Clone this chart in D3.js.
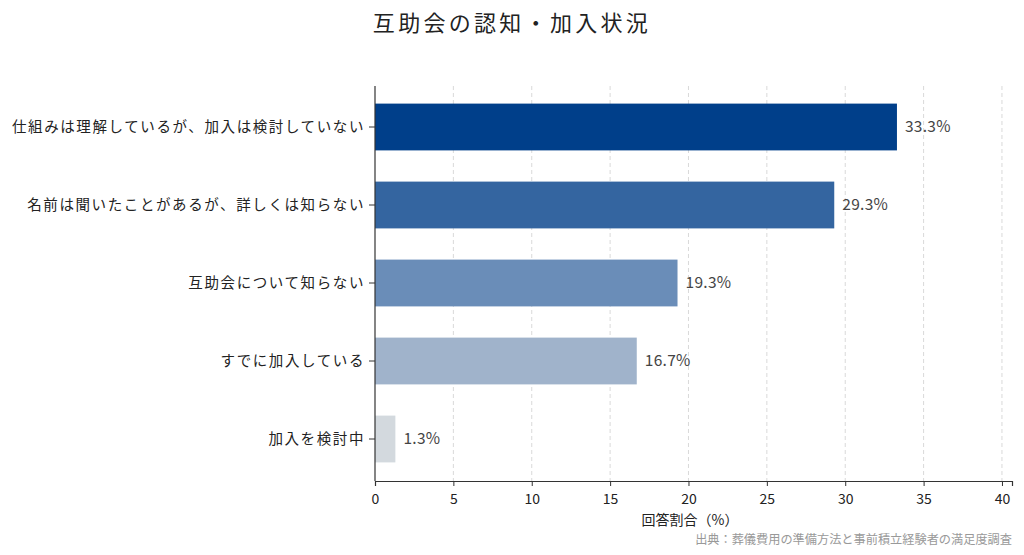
<!DOCTYPE html>
<html><head><meta charset="utf-8">
<script src="https://cdn.jsdelivr.net/npm/d3@7"></script>
<style>body{margin:0;background:#fff;} text{font-family:"Noto Sans CJK JP","Noto Sans",sans-serif;}</style>
</head><body><svg id="c" width="1024" height="555"></svg>
<script>
const categories = ["仕組みは理解しているが、加入は検討していない","名前は聞いたことがあるが、詳しくは知らない","互助会について知らない","すでに加入している","加入を検討中"];
const values = [33.3, 29.3, 19.3, 16.7, 1.3];
const colors = ["#003f8a","#3465a0","#6a8db8","#a0b3cb","#d3d9de"];
const xTicks = [0,5,10,15,20,25,30,35,40];

(function(){
const svg = d3.select("#c");
const mL = 375, mR = 1012, mT = 86, mB = 481;
const x = d3.scaleLinear().domain([0, 40.64]).range([mL, mR]);
const y = d3.scaleBand().domain(categories).range([88, 478]).paddingInner(0.4).paddingOuter(0.2);

// grid
svg.append("g").selectAll("line").data(xTicks.filter(d=>d>0)).join("line")
  .attr("x1", d=>x(d)).attr("x2", d=>x(d)).attr("y1", mT).attr("y2", mB)
  .attr("stroke", "#d9d9d9").attr("stroke-dasharray", "4,3").attr("stroke-width", 1);

// bars
svg.append("g").selectAll("rect").data(values).join("rect")
  .attr("x", x(0)).attr("y", (d,i)=>y(categories[i]))
  .attr("width", d=>x(d)-x(0)).attr("height", y.bandwidth())
  .attr("fill", (d,i)=>colors[i]);

// value labels
svg.append("g").selectAll("text").data(values).join("text")
  .attr("x", d=>x(d)+8).attr("y", (d,i)=>y(categories[i])+y.bandwidth()/2)
  .attr("dy", "0.35em").attr("font-size", 15.5).attr("letter-spacing", "0.3px").attr("fill", "#444")
  .text(d=>d.toFixed(1)+"%");

// x axis
const xAxis = d3.axisBottom(x).tickValues(xTicks).tickSize(5).tickPadding(8);
const gx = svg.append("g").attr("transform", `translate(0,${mB})`).call(xAxis);
gx.select(".domain").attr("stroke", "#333").attr("stroke-width", 1.2);
gx.selectAll(".tick line").attr("stroke", "#333");
gx.selectAll(".tick text").attr("font-size", 14).attr("fill", "#222").style("font-family", '"Noto Sans CJK JP",sans-serif');

// y axis
const yAxis = d3.axisLeft(y).tickSize(6).tickPadding(4);
const gy = svg.append("g").attr("transform", `translate(${mL},0)`).call(yAxis);
gy.select(".domain").remove();
gy.selectAll(".tick line").attr("stroke", "#333");
gy.selectAll(".tick text").attr("font-size", 14.5).attr("letter-spacing", "1.6px").attr("fill", "#222").style("font-family", '"Noto Sans CJK JP",sans-serif');
svg.append("line").attr("x1", mL).attr("x2", mL).attr("y1", mT).attr("y2", mB)
  .attr("stroke", "#333").attr("stroke-width", 1.2);

// title
svg.append("text").attr("x", 512).attr("y", 31).attr("text-anchor", "middle")
  .attr("font-size", 22).attr("letter-spacing", "3.3px").attr("fill", "#222").text("互助会の認知・加入状況");

// x label
svg.append("text").attr("x", 690).attr("y", 525).attr("text-anchor", "middle")
  .attr("font-size", 14).attr("fill", "#222").text("回答割合（%）");

// source
svg.append("text").attr("x", 1012).attr("y", 544).attr("text-anchor", "end")
  .attr("font-size", 12.2).attr("fill", "#999").text("出典：葬儀費用の準備方法と事前積立経験者の満足度調査");
})();
</script></body></html>
